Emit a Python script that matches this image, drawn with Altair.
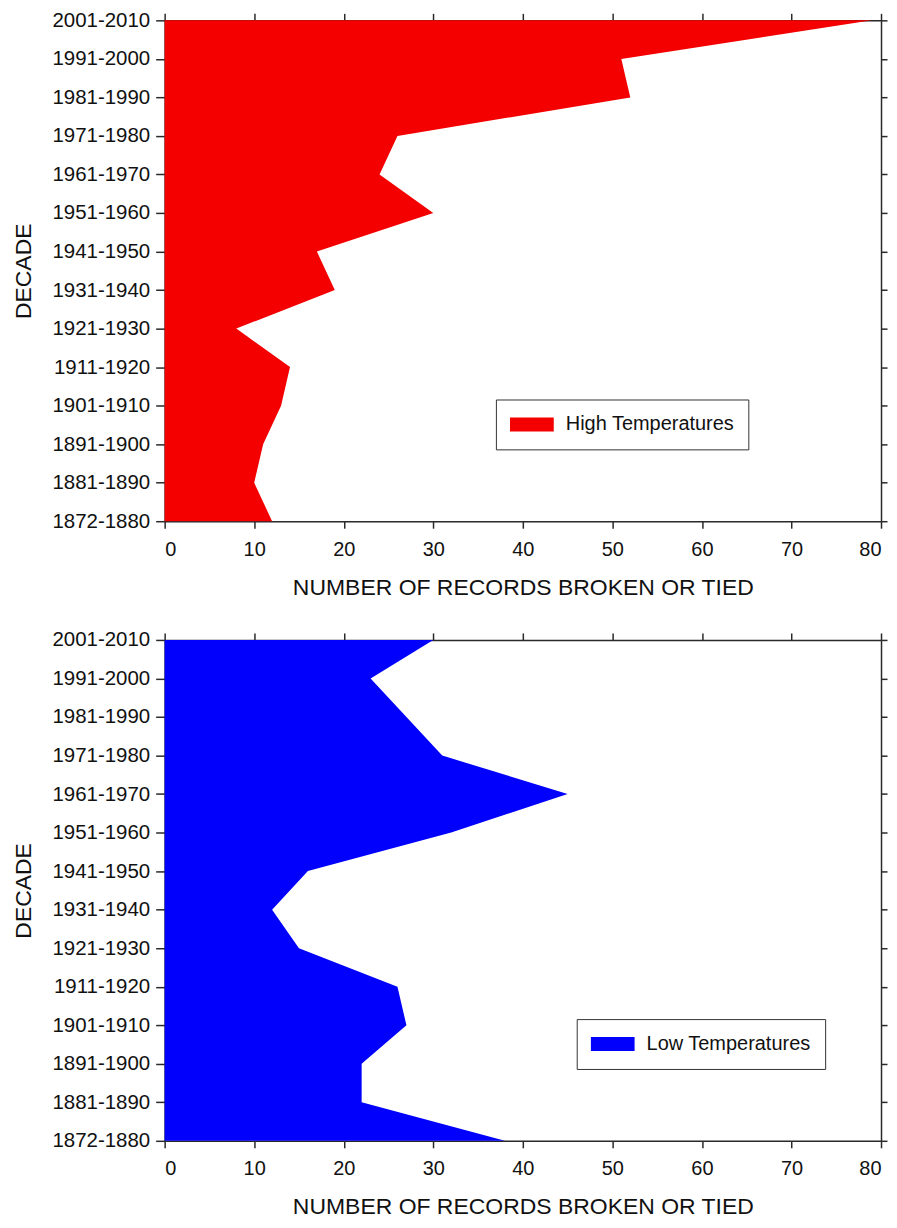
import altair as alt
import pandas as pd

decades = ["2001-2010", "1991-2000", "1981-1990", "1971-1980", "1961-1970",
           "1951-1960", "1941-1950", "1931-1940", "1921-1930", "1911-1920",
           "1901-1910", "1891-1900", "1881-1890", "1872-1880"]
high_records = [79, 51, 52, 26, 24, 30, 17, 19, 8, 14, 13, 11, 10, 12]
low_records = [30, 23, 27, 31, 45, 32, 16, 12, 15, 26, 27, 22, 22, 38]
x_ticks = [0, 10, 20, 30, 40, 50, 60, 70, 80]

FONT = "Liberation Sans"
AX = "#2a2a2a"
W, H = 718, 502


def panel(values, series, color, lx, ly):
    df = pd.DataFrame({"decade": decades, "records": values, "series": series})
    xscale = alt.Scale(domain=[0, 80], nice=False, zero=True)
    yscale = alt.Scale(type="point", padding=0, domain=decades)
    common_axis = dict(domainColor=AX, domainWidth=1.5, tickColor=AX, tickWidth=1.5,
                       grid=False, labelFont=FONT, labelColor="#111", titleFont=FONT,
                       titleColor="#111", titleFontWeight="normal")
    area = alt.Chart(df).mark_area(opacity=1).encode(
        x=alt.X("records:Q", scale=xscale, stack=None,
                axis=alt.Axis(title="NUMBER OF RECORDS BROKEN OR TIED", values=x_ticks,
                              orient="bottom", tickSize=7, labelPadding=11, labelFontSize=20,
                              titleFontSize=23, titlePadding=17, **common_axis)),
        y=alt.Y("decade:O", scale=yscale, sort=decades,
                axis=alt.Axis(title="DECADE", orient="left", tickSize=9, labelPadding=6,
                              labelFontSize=20.5, titleFontSize=23, titlePadding=16,
                              labelAngle=0, **common_axis)),
        color=alt.Color("series:N", scale=alt.Scale(domain=[series], range=[color]),
                        legend=alt.Legend(title=None, orient="none", legendX=lx, legendY=ly,
                                          padding=14, strokeColor="#333", fillColor="white",
                                          symbolType="M-1,-0.32H1V0.32H-1Z", symbolSize=1936,
                                          symbolStrokeWidth=0, symbolOpacity=1,
                                          labelFontSize=20, labelFont=FONT, labelColor="#111",
                                          labelOffset=12, clipHeight=22, labelLimit=400)),
    )
    frame = alt.Chart(df).mark_point(opacity=0).encode(
        x=alt.X("records:Q", scale=xscale,
                axis=alt.Axis(title=None, values=x_ticks, orient="top", labels=False,
                              tickSize=7, **common_axis)),
        y=alt.Y("decade:O", scale=yscale, sort=decades,
                axis=alt.Axis(title=None, orient="right", labels=False, tickSize=6,
                              minExtent=0, **common_axis)),
    )
    return alt.layer(area, frame).resolve_axis(x="independent", y="independent").properties(
        width=W, height=H)


top = panel(high_records, "High Temperatures", "#f40000", 332, 380)
bottom = panel(low_records, "Low Temperatures", "#0000fc", 413, 380)

chart = alt.vconcat(top, bottom, spacing=29).resolve_scale(color="independent").resolve_legend(
    color="independent").configure_view(stroke="transparent").configure(
    background="white", padding={"left": 4, "top": 0, "right": 0, "bottom": 0})

chart.save("out.html", embed_options={"renderer": "svg", "actions": False})
